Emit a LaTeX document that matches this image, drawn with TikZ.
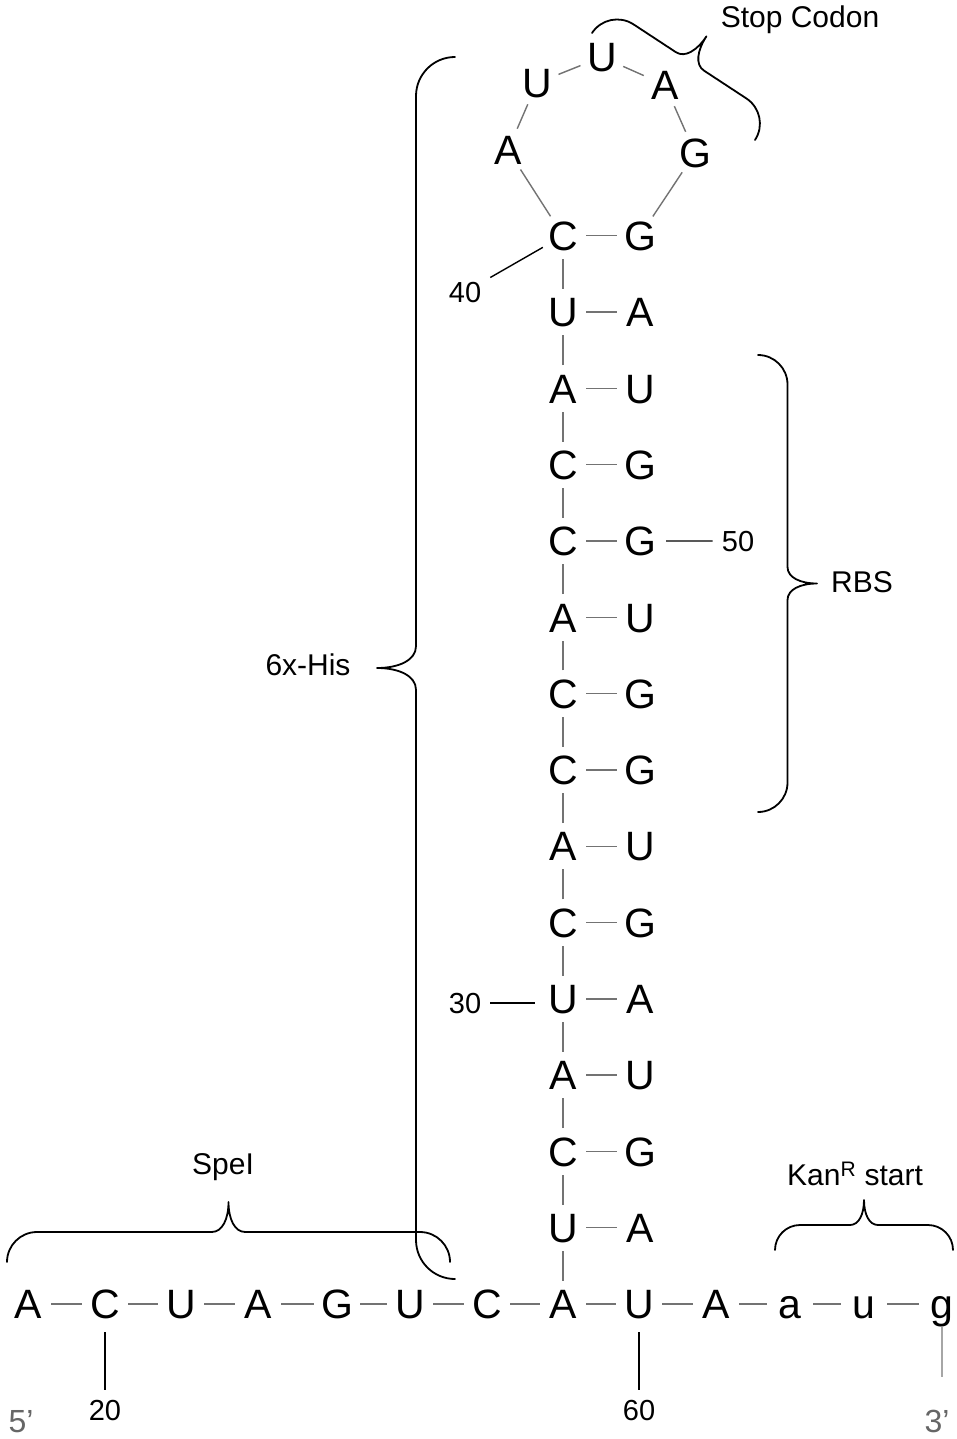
\documentclass[tikz,border=0pt]{standalone}
\usepackage{fontspec}
\setmainfont{Liberation Sans}
\newcommand{\drawcbrace}[5]{%
  \pgfmathsetmacro{\cbL}{veclen((#3)-(#1),(#4)-(#2))}%
  \pgfmathsetmacro{\cbAng}{atan2((#2)-(#4),(#3)-(#1))}%
  \pgfmathsetmacro{\cbh}{#5}%
  \begin{scope}[shift={(#1,-#2)}, rotate=\cbAng]
    \draw[bracestyle] (0,0) .. controls (0,0.276*\cbh) and (0.224*\cbh,0.5*\cbh) .. (0.5*\cbh,0.5*\cbh)
      -- (0.5*\cbL-0.28*\cbh,0.5*\cbh) .. controls (0.5*\cbL-0.1*\cbh,0.5*\cbh) and (0.5*\cbL,0.72*\cbh) .. (0.5*\cbL,\cbh)
      .. controls (0.5*\cbL,0.72*\cbh) and (0.5*\cbL+0.1*\cbh,0.5*\cbh) .. (0.5*\cbL+0.28*\cbh,0.5*\cbh)
      -- (\cbL-0.5*\cbh,0.5*\cbh) .. controls (\cbL-0.224*\cbh,0.5*\cbh) and (\cbL,0.276*\cbh) .. (\cbL,0);
  \end{scope}}
\tikzset{
  nt/.style={circle, minimum size=46pt, inner sep=0pt, font=\fontsize{41}{41}\selectfont, text height=29.4pt, text depth=0pt},
  bond/.style={draw=black!55, line width=1.4pt},
  numlbl/.style={font=\fontsize{29}{29}\selectfont, inner sep=9pt, text height=20.8pt, text depth=0pt},
  lbl/.style={font=\fontsize{30}{30}\selectfont, inner sep=0pt, text height=21.5pt, text depth=0pt},
  numline/.style={draw=black, line width=1.4pt},
  bracestyle/.style={draw=black, line width=1.8pt, line cap=round, line join=round},
  endlbl/.style={font=\fontsize{32}{32}\selectfont, text=black!60, inner sep=0pt, text height=23pt, text depth=0pt},
}
\begin{document}
\begin{tikzpicture}[x=1pt,y=1pt]
\useasboundingbox[fill=white] (0,0) rectangle (956,-1439);
% bottom row
\node[nt] (n19) at (28,-1304) {A};
\node[nt] (n20) at (105,-1304) {C};
\node[nt] (n21) at (181,-1304) {U};
\node[nt] (n22) at (258,-1304) {A};
\node[nt] (n23) at (337,-1304) {G};
\node[nt] (n24) at (410,-1304) {U};
\node[nt] (n25) at (487,-1304) {C};
\node[nt] (n26) at (563,-1304) {A};
\node[nt] (n60) at (639,-1304) {U};
\node[nt] (n61) at (716,-1304) {A};
\node[nt] (n62) at (790,-1304) {a};
\node[nt] (n63) at (864,-1304) {u};
\node[nt] (n64) at (942,-1304) {g};
% stem
\foreach \k/\l/\r in {1/U/A,2/C/G,3/A/U,4/U/A,5/C/G,6/A/U,7/C/G,8/C/G,9/A/U,10/C/G,11/C/G,12/A/U,13/U/A,14/C/G}{
  \node[nt] (L\k) at (563,{-1304+76.3*\k}) {\l};
  \node[nt] (R\k) at (640,{-1304+76.3*\k}) {\r};
  \draw[bond] (L\k) -- (R\k);
}
\foreach \k in {1,...,13}{
  \pgfmathtruncatemacro{\kk}{\k+1}
  \draw[bond] (L\k) -- (L\kk);
}
% loop
\node[nt] (n41) at (508,-150) {A};
\node[nt] (n42) at (537,-83) {U};
\node[nt] (n43) at (602,-57) {U};
\node[nt] (n44) at (665,-85) {A};
\node[nt] (n45) at (695,-153) {G};
\draw[bond] (L14) -- (n41);
\draw[bond] (n41) -- (n42);
\draw[bond] (n42) -- (n43);
\draw[bond] (n43) -- (n44);
\draw[bond] (n44) -- (n45);
\draw[bond] (n45) -- (R14);
% bottom bonds
\draw[bond] (n19) -- (n20);
\draw[bond] (n20) -- (n21);
\draw[bond] (n21) -- (n22);
\draw[bond] (n22) -- (n23);
\draw[bond] (n23) -- (n24);
\draw[bond] (n24) -- (n25);
\draw[bond] (n25) -- (n26);
\draw[bond] (n26) -- (n60);
\draw[bond] (n60) -- (n61);
\draw[bond] (n61) -- (n62);
\draw[bond] (n62) -- (n63);
\draw[bond] (n63) -- (n64);
\draw[bond] (n26) -- (L1);
% 3' tail line
\coordinate (tail) at (942,-1377);
\draw[draw=black!35, line width=1.5pt] (n64) -- (tail);
% number labels
\node[numlbl] (l20) at (105,-1410) {20};
\node[numlbl] (l60) at (639,-1410) {60};
\node[numlbl] (l30) at (465,-1003) {30};
\node[numlbl] (l40) at (465,-292) {40};
\node[numlbl] (l50) at (738,-541) {50};
\draw[numline, shorten <=5pt] (n20) -- (l20);
\draw[numline, shorten <=5pt] (n60) -- (l60);
\draw[numline, shorten >=5pt] (l30.east) -- (l30.east -| L4.west);
\draw[numline] (l40) -- (L14);
\draw[numline, shorten <=3pt] (R10) -- (l50);
% end labels
\node[endlbl] (p5) at (21,-1421) {5’};
\node[endlbl] (p3) at (937,-1421) {3’};
% braces
\drawcbrace{455}{1279}{455}{57}{78}
\drawcbrace{7}{1262}{450}{1262}{60}
\drawcbrace{775}{1250}{953}{1250}{50}
\drawcbrace{758}{355}{758}{812}{59}
\drawcbrace{592}{33}{755}{140}{60}
% text labels
\node[lbl] (tstop) at (800,-17) {Stop Codon};
\node[lbl] (this) at (308,-665) {6x-His};
\node[lbl] (trbs) at (862,-582) {RBS};
\node[lbl] (tspe) at (223,-1164) {SpeI};
\node[lbl] (tkan) at (855,-1175) {Kan\textsuperscript{R} start};
\end{tikzpicture}
\end{document}
